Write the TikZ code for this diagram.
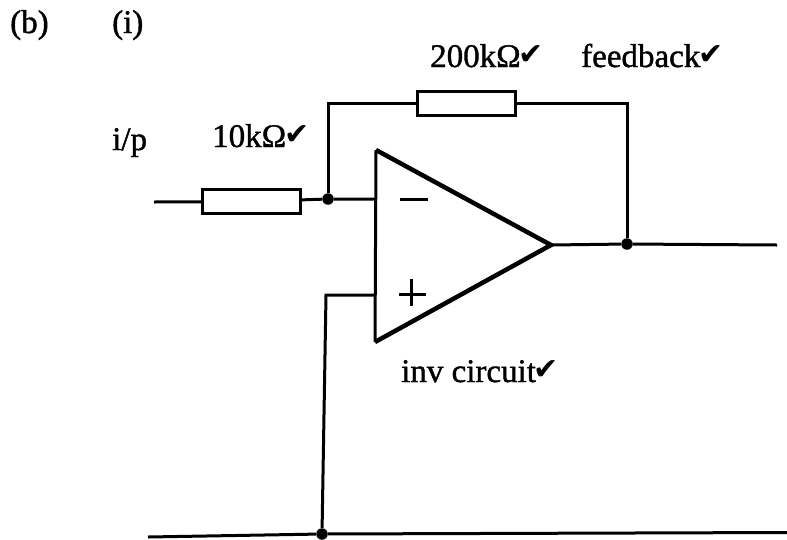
\documentclass[tikz,border=0pt]{standalone}
\usepackage{fontspec}
\setmainfont[FakeBold=1.2]{Liberation Serif}
\newfontfamily\symfont{DejaVu Sans}
\newcommand{\tickmark}{{\symfont\fontsize{30}{30}\selectfont\hspace{-2pt}\raisebox{3pt}{✔}}}
\tikzset{
  wire/.style={line width=3pt},
  sign/.style={line width=3pt},
  res/.style={draw,line width=3pt,fill=white,minimum width=98pt,minimum height=24pt,inner sep=0pt},
  lbl/.style={inner sep=0pt,anchor=base west,font=\fontsize{33}{33}\selectfont},
  dot/.style={circle,fill=black,inner sep=0pt,minimum size=11.5pt}
}
\begin{document}
\begin{tikzpicture}[x=1pt,y=-1pt]
\useasboundingbox (0,0) rectangle (787,539);
\coordinate (a) at (376,150);
\coordinate (c) at (375,342);
\coordinate (o) at (551,245);
\draw[line width=3pt] (a) -- (c);
\draw[line width=4.5pt,line join=miter] (a) -- (o) -- (c);
\draw[sign] (400,199) -- (428,199);
\draw[sign] (399,294) -- (426,294) (411,279) -- (411,306);
\coordinate (in) at (154,202);
\coordinate (end) at (777,245);
\node[dot] (n1) at (328,199) {};
\node[dot] (n2) at (627,244) {};
\node[dot] (n3) at (322,534) {};
\coordinate (g1) at (148,537);
\coordinate (g2) at (787,532.5);
\coordinate (p) at (376,295);
\coordinate (m) at (376,199);
\node[res] (r1) at (251.5,201.5) {};
\node[res] (r2) at (466.5,103.5) {};
\draw[wire] (in) -- (r1) -- (n1) -- (m);
\draw[wire] (n1) |- (r2);
\draw[wire] (r2) -| (n2);
\draw[wire] (o) -- (n2) -- (end);
\draw[wire] (p) -- (326,295) -- (n3);
\draw[wire] (g1) -- (n3) -- (g2);
\node[lbl] (b) at (10,33) {(b)};
\node[lbl] (i) at (112,33) {(i)};
\node[lbl] (ip) at (112,150) {i/p};
\node[lbl] (rin) at (212,147) {10kΩ\tickmark};
\node[lbl] (rfb) at (430,67) {200kΩ\tickmark};
\node[lbl] (fb) at (581,67) {feedback\tickmark};
\node[lbl] (inv) at (401,382) {inv circuit\tickmark};
\end{tikzpicture}
\end{document}
